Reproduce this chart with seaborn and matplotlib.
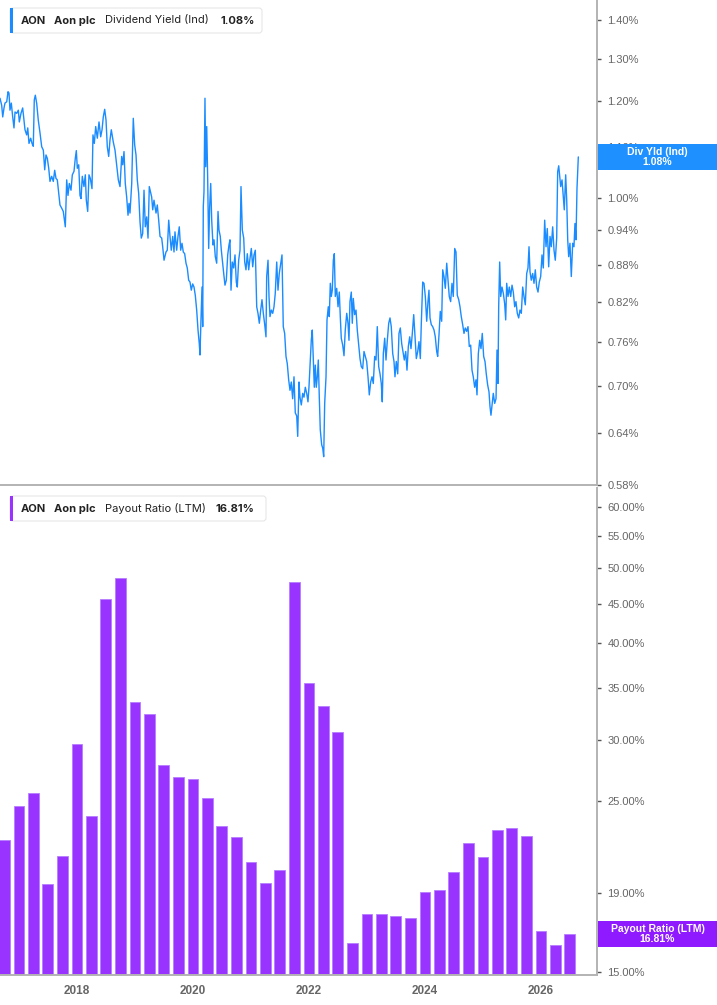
import matplotlib
matplotlib.use("Agg")
import seaborn as sns
import pandas as pd
import numpy as np
import matplotlib.pyplot as plt
import matplotlib.ticker as mtick
from matplotlib.patches import Rectangle, FancyBboxPatch

# dividend yield (ind), % -- time in decimal years
yield_t = [
    2016.672, 2016.701, 2016.719, 2016.741, 2016.758, 2016.788, 2016.810, 2016.827, 2016.844, 2016.867,
    2016.891, 2016.913, 2016.931, 2016.960, 2016.988, 2017.005, 2017.034, 2017.063, 2017.086, 2017.103,
    2017.132, 2017.150, 2017.172, 2017.201, 2017.224, 2017.246, 2017.263, 2017.281, 2017.305, 2017.332,
    2017.362, 2017.391, 2017.419, 2017.443, 2017.465, 2017.488, 2017.512, 2017.534, 2017.563, 2017.591,
    2017.615, 2017.637, 2017.660, 2017.684, 2017.706, 2017.736, 2017.763, 2017.798, 2017.822, 2017.844,
    2017.867, 2017.896, 2017.919, 2017.948, 2017.970, 2017.988, 2018.005, 2018.029, 2018.051, 2018.069,
    2018.091, 2018.120, 2018.143, 2018.160, 2018.184, 2018.206, 2018.229, 2018.258, 2018.275, 2018.298,
    2018.322, 2018.350, 2018.379, 2018.408, 2018.431, 2018.453, 2018.477, 2018.500, 2018.522, 2018.546,
    2018.568, 2018.591, 2018.625, 2018.655, 2018.684, 2018.712, 2018.741, 2018.770, 2018.788, 2018.810,
    2018.832, 2018.856, 2018.879, 2018.896, 2018.913, 2018.943, 2018.970, 2018.994, 2019.017, 2019.039,
    2019.063, 2019.086, 2019.108, 2019.132, 2019.155, 2019.177, 2019.201, 2019.224, 2019.246, 2019.287,
    2019.305, 2019.327, 2019.362, 2019.384, 2019.408, 2019.431, 2019.460, 2019.477, 2019.500, 2019.534,
    2019.556, 2019.581, 2019.603, 2019.625, 2019.650, 2019.672, 2019.689, 2019.718, 2019.741, 2019.763,
    2019.787, 2019.810, 2019.832, 2019.856, 2019.879, 2019.901, 2019.925, 2019.948, 2019.970, 2019.994,
    2020.017, 2020.039, 2020.063, 2020.086, 2020.108, 2020.120, 2020.137, 2020.155, 2020.167, 2020.177,
    2020.189, 2020.206, 2020.219, 2020.236, 2020.253, 2020.270, 2020.287, 2020.305, 2020.322, 2020.344,
    2020.362, 2020.384, 2020.408, 2020.431, 2020.448, 2020.470, 2020.488, 2020.505, 2020.529, 2020.551,
    2020.574, 2020.598, 2020.620, 2020.637, 2020.655, 2020.677, 2020.701, 2020.724, 2020.746, 2020.763,
    2020.787, 2020.810, 2020.827, 2020.850, 2020.874, 2020.891, 2020.913, 2020.936, 2020.960, 2020.982,
    2021.005, 2021.029, 2021.051, 2021.074, 2021.098, 2021.120, 2021.143, 2021.167, 2021.189, 2021.212,
    2021.236, 2021.258, 2021.270, 2021.293, 2021.310, 2021.327, 2021.350, 2021.374, 2021.396, 2021.418,
    2021.443, 2021.465, 2021.487, 2021.512, 2021.534, 2021.556, 2021.580, 2021.603, 2021.625, 2021.649,
    2021.672, 2021.694, 2021.718, 2021.741, 2021.763, 2021.788, 2021.805, 2021.827, 2021.844, 2021.867,
    2021.891, 2021.913, 2021.936, 2021.960, 2021.982, 2021.999, 2022.017, 2022.039, 2022.056, 2022.074,
    2022.091, 2022.108, 2022.125, 2022.143, 2022.160, 2022.177, 2022.194, 2022.218, 2022.236, 2022.253,
    2022.270, 2022.293, 2022.310, 2022.332, 2022.349, 2022.367, 2022.384, 2022.401, 2022.419, 2022.436,
    2022.453, 2022.477, 2022.500, 2022.522, 2022.539, 2022.556, 2022.581, 2022.603, 2022.625, 2022.650,
    2022.672, 2022.689, 2022.706, 2022.729, 2022.746, 2022.763, 2022.787, 2022.810, 2022.832, 2022.856,
    2022.879, 2022.901, 2022.925, 2022.948, 2022.970, 2022.994, 2023.017, 2023.039, 2023.063, 2023.086,
    2023.108, 2023.132, 2023.155, 2023.177, 2023.201, 2023.224, 2023.246, 2023.263, 2023.281, 2023.305,
    2023.327, 2023.350, 2023.374, 2023.396, 2023.418, 2023.443, 2023.465, 2023.482, 2023.505, 2023.529,
    2023.551, 2023.574, 2023.598, 2023.620, 2023.643, 2023.667, 2023.689, 2023.712, 2023.736, 2023.758,
    2023.781, 2023.805, 2023.827, 2023.850, 2023.874, 2023.896, 2023.919, 2023.936, 2023.960, 2023.982,
    2024.005, 2024.029, 2024.051, 2024.068, 2024.086, 2024.108, 2024.132, 2024.155, 2024.177, 2024.201,
    2024.218, 2024.241, 2024.263, 2024.287, 2024.305, 2024.327, 2024.350, 2024.374, 2024.396, 2024.418,
    2024.442, 2024.465, 2024.487, 2024.512, 2024.534, 2024.556, 2024.581, 2024.603, 2024.625, 2024.649,
    2024.672, 2024.694, 2024.718, 2024.741, 2024.763, 2024.787, 2024.810, 2024.832, 2024.856, 2024.879,
    2024.896, 2024.919, 2024.943, 2024.965, 2024.987, 2025.011, 2025.034, 2025.056, 2025.080, 2025.103,
    2025.120, 2025.137, 2025.155, 2025.177, 2025.201, 2025.224, 2025.241, 2025.258, 2025.270, 2025.287,
    2025.305, 2025.327, 2025.350, 2025.373, 2025.391, 2025.408, 2025.431, 2025.453, 2025.477, 2025.500,
    2025.522, 2025.546, 2025.568, 2025.591, 2025.615, 2025.637, 2025.660, 2025.684, 2025.706, 2025.729,
    2025.753, 2025.775, 2025.793, 2025.810, 2025.832, 2025.856, 2025.879, 2025.901, 2025.925, 2025.948,
    2025.970, 2025.994, 2026.017, 2026.039, 2026.063, 2026.086, 2026.108, 2026.132, 2026.155, 2026.177,
    2026.201, 2026.224, 2026.246, 2026.270, 2026.287, 2026.305, 2026.322, 2026.339, 2026.362, 2026.384,
    2026.401, 2026.425, 2026.443, 2026.460, 2026.477, 2026.499, 2026.522, 2026.546, 2026.568, 2026.585,
    2026.603, 2026.620, 2026.643,
]
yield_pct = [
    1.207, 1.191, 1.165, 1.185, 1.196, 1.199, 1.222, 1.219, 1.180, 1.196,
    1.165, 1.141, 1.176, 1.173, 1.180, 1.154, 1.173, 1.185, 1.158, 1.137,
    1.126, 1.141, 1.108, 1.119, 1.108, 1.102, 1.203, 1.214, 1.195, 1.158,
    1.130, 1.101, 1.094, 1.054, 1.084, 1.077, 1.057, 1.031, 1.041, 1.031,
    1.053, 1.037, 1.034, 1.008, 0.986, 0.980, 0.974, 0.946, 1.034, 1.004,
    1.027, 1.014, 1.044, 1.051, 1.077, 1.093, 1.057, 1.064, 1.004, 0.998,
    1.041, 1.021, 1.044, 0.995, 0.974, 1.044, 1.037, 1.017, 1.126, 1.108,
    1.144, 1.119, 1.154, 1.122, 1.137, 1.165, 1.182, 1.158, 1.101, 1.081,
    1.115, 1.137, 1.111, 1.094, 1.064, 1.034, 1.021, 1.081, 1.064, 1.091,
    1.027, 1.001, 0.967, 0.989, 0.971, 1.027, 1.162, 1.105, 1.084, 1.034,
    1.008, 0.955, 0.926, 0.934, 1.014, 0.946, 0.964, 0.926, 1.021, 1.001,
    0.977, 0.995, 0.971, 0.986, 0.958, 0.929, 0.926, 0.911, 0.888, 0.902,
    0.905, 0.958, 0.929, 0.905, 0.929, 0.902, 0.937, 0.905, 0.929, 0.946,
    0.905, 0.917, 0.902, 0.899, 0.883, 0.875, 0.855, 0.852, 0.839, 0.849,
    0.844, 0.831, 0.808, 0.778, 0.758, 0.742, 0.793, 0.844, 0.783, 0.983,
    1.011, 1.207, 1.060, 1.144, 1.034, 0.908, 0.983, 1.027, 0.958, 0.914,
    0.923, 0.894, 0.883, 0.974, 0.940, 0.929, 0.905, 0.888, 0.866, 0.847,
    0.855, 0.897, 0.914, 0.923, 0.839, 0.885, 0.875, 0.897, 0.852, 0.844,
    0.888, 0.905, 1.021, 0.940, 0.926, 0.885, 0.872, 0.899, 0.872, 0.891,
    0.908, 0.877, 0.897, 0.905, 0.813, 0.803, 0.788, 0.808, 0.824, 0.803,
    0.786, 0.768, 0.861, 0.888, 0.829, 0.798, 0.808, 0.803, 0.813, 0.834,
    0.885, 0.839, 0.866, 0.883, 0.897, 0.783, 0.773, 0.740, 0.730, 0.708,
    0.694, 0.705, 0.683, 0.712, 0.665, 0.661, 0.636, 0.705, 0.685, 0.675,
    0.690, 0.685, 0.698, 0.690, 0.679, 0.698, 0.726, 0.763, 0.778, 0.735,
    0.698, 0.728, 0.698, 0.712, 0.735, 0.685, 0.644, 0.626, 0.622, 0.612,
    0.677, 0.712, 0.793, 0.813, 0.798, 0.850, 0.829, 0.839, 0.888, 0.899,
    0.829, 0.842, 0.813, 0.836, 0.798, 0.766, 0.756, 0.741, 0.778, 0.803,
    0.788, 0.763, 0.821, 0.836, 0.788, 0.826, 0.801, 0.808, 0.778, 0.756,
    0.737, 0.726, 0.723, 0.747, 0.740, 0.733, 0.712, 0.688, 0.705, 0.712,
    0.703, 0.740, 0.735, 0.783, 0.726, 0.716, 0.703, 0.679, 0.744, 0.766,
    0.735, 0.763, 0.788, 0.796, 0.783, 0.744, 0.733, 0.712, 0.733, 0.716,
    0.773, 0.781, 0.758, 0.747, 0.735, 0.747, 0.721, 0.754, 0.768, 0.751,
    0.773, 0.801, 0.768, 0.737, 0.747, 0.761, 0.737, 0.788, 0.852, 0.850,
    0.829, 0.791, 0.821, 0.839, 0.796, 0.786, 0.783, 0.778, 0.768, 0.747,
    0.740, 0.771, 0.806, 0.791, 0.872, 0.861, 0.842, 0.883, 0.855, 0.829,
    0.821, 0.850, 0.829, 0.908, 0.902, 0.831, 0.824, 0.813, 0.798, 0.786,
    0.773, 0.781, 0.776, 0.783, 0.754, 0.756, 0.721, 0.712, 0.698, 0.708,
    0.688, 0.744, 0.763, 0.751, 0.773, 0.740, 0.733, 0.716, 0.701, 0.692,
    0.673, 0.662, 0.675, 0.690, 0.677, 0.683, 0.749, 0.703, 0.813, 0.885,
    0.829, 0.844, 0.834, 0.818, 0.793, 0.850, 0.829, 0.844, 0.829, 0.847,
    0.836, 0.813, 0.821, 0.803, 0.796, 0.808, 0.803, 0.844, 0.829, 0.816,
    0.866, 0.875, 0.911, 0.869, 0.855, 0.866, 0.850, 0.872, 0.844, 0.836,
    0.852, 0.861, 0.897, 0.875, 0.958, 0.911, 0.943, 0.877, 0.929, 0.911,
    0.946, 0.905, 0.888, 0.926, 1.050, 1.062, 1.041, 1.021, 1.034, 1.001,
    0.977, 1.044, 0.995, 0.923, 0.894, 0.917, 0.861, 0.917, 0.911, 0.952,
    0.923, 1.017, 1.080,
]

# payout ratio (LTM), % -- quarterly
payout_dates = [
    "2016-09-30", "2016-12-31", "2017-03-31", "2017-06-30", "2017-09-30", "2017-12-31",
    "2018-03-31", "2018-06-30", "2018-09-30", "2018-12-31", "2019-03-31", "2019-06-30",
    "2019-09-30", "2019-12-31", "2020-03-31", "2020-06-30", "2020-09-30", "2020-12-31",
    "2021-03-31", "2021-06-30", "2021-09-30", "2021-12-31", "2022-03-31", "2022-06-30",
    "2022-09-30", "2022-12-31", "2023-03-31", "2023-06-30", "2023-09-30", "2023-12-31",
    "2024-03-31", "2024-06-30", "2024-09-30", "2024-12-31", "2025-03-31", "2025-06-30",
    "2025-09-30", "2025-12-31", "2026-03-31", "2026-06-30",
]
payout_pct = [
    22.23, 24.63, 25.60, 19.50, 21.20, 29.60, 23.88, 45.57, 48.60, 33.58,
    32.34, 27.78, 26.80, 26.67, 25.20, 23.18, 22.45, 20.84, 19.56, 20.33,
    47.94, 35.51, 33.12, 30.65, 16.34, 17.82, 17.82, 17.71, 17.62, 19.02,
    19.15, 20.21, 22.03, 21.12, 22.91, 23.04, 22.50, 16.97, 16.26, 16.81,
]

yield_ticks = [0.58, 0.64, 0.70, 0.76, 0.82, 0.88, 0.94, 1.00, 1.10, 1.20, 1.30, 1.40]
payout_ticks = [15, 19, 25, 30, 35, 40, 45, 50, 55, 60]
year_ticks = [2018, 2020, 2022, 2024, 2026]

BLUE = "#1a8cff"
BLUE_BOX = "#1e90ff"
PURPLE = "#9933ff"
PURPLE_BOX = "#8f1aff"
GRAY = "#b3b3b3"

sns.set_style("white")
plt.rcParams["font.family"] = ["Liberation Sans", "DejaVu Sans"]

W, H = 717, 1005
fig = plt.figure(figsize=(W / 100, H / 100), dpi=100)


def inch(x, y):
    return x / 100, (H - y) / 100


ax1 = fig.add_axes([0, 1 - 485 / H, 597 / W, 485 / H])
ax2 = fig.add_axes([0, 1 - 975 / H, 597 / W, (975 - 488) / H])

d = pd.to_datetime(payout_dates)
payout_t = d.year + (d.dayofyear - 1) / np.where(d.is_leap_year, 366, 365)

sns.lineplot(x=yield_t, y=yield_pct, ax=ax1, color=BLUE, linewidth=1.0,
             estimator=None, sort=False)
sns.barplot(x=np.asarray(payout_t), y=payout_pct, ax=ax2, native_scale=True,
            color=PURPLE, saturation=1, width=0.75, errorbar=None,
            edgecolor="#b77dff", linewidth=0.6)

xlim = (2016.672, 2016.672 + 597 / 58)
pct = mtick.FuncFormatter(lambda v, _: f"{v:.2f}%")
for ax, ticks, lim in [(ax1, yield_ticks, (0.58, 1.454)), (ax2, payout_ticks, (14.87, 63.5))]:
    ax.set_yscale("log")
    ax.set_ylim(*lim)
    ax.set_xlim(*xlim)
    ax.yaxis.set_major_locator(mtick.FixedLocator(ticks))
    ax.yaxis.set_major_formatter(pct)
    ax.yaxis.set_minor_locator(mtick.NullLocator())
    ax.yaxis.tick_right()
    ax.tick_params(axis="y", direction="out", length=3, width=1, color="#555555",
                   pad=4.5, labelsize=8, labelcolor="#666666")
    ax.set(xlabel="", ylabel="")
    for s in ["top", "left"]:
        ax.spines[s].set_visible(False)
    for s in ["right", "bottom"]:
        ax.spines[s].set_color(GRAY)
        ax.spines[s].set_linewidth(1.4)
    ax.grid(False)

ax1.tick_params(axis="x", bottom=False, labelbottom=False)
ax2.set_xticks(year_ticks)
ax2.set_xticklabels([str(y) for y in year_ticks])
ax2.xaxis.set_minor_locator(mtick.NullLocator())
ax2.tick_params(axis="x", direction="out", length=4, width=1, color="#777777",
                pad=3, labelsize=8.5, labelcolor="#666666")
for lab in ax2.get_xticklabels():
    lab.set_fontweight("bold")


def legend_box(y0, y1, x1, accent, parts):
    x0 = 10
    box = FancyBboxPatch(inch(x0, y1), (x1 - x0) / 100, (y1 - y0) / 100,
                         boxstyle="round,pad=0,rounding_size=0.03",
                         transform=fig.dpi_scale_trans, facecolor="white",
                         edgecolor="#e6e6e6", linewidth=0.8, zorder=5)
    fig.add_artist(box)
    bar = Rectangle(inch(x0, y1), 0.03, (y1 - y0) / 100,
                    transform=fig.dpi_scale_trans, facecolor=accent,
                    edgecolor="none", zorder=6)
    fig.add_artist(bar)
    yc = (y0 + y1) / 2
    for x, txt, weight in parts:
        fig.text(*inch(x, yc), txt, transform=fig.dpi_scale_trans, ha="left",
                 va="center", fontsize=8, fontweight=weight, color="#222222",
                 family=["Inter", "DejaVu Sans"], zorder=7)


legend_box(8, 33, 262, BLUE, [(20.5, "AON", "bold"), (54, "Aon plc", "bold"),
                              (105, "Dividend Yield (Ind)", "normal"), (220, "1.08%", "bold")])
legend_box(496, 521, 266, PURPLE, [(20.5, "AON", "bold"), (54, "Aon plc", "bold"),
                                   (105, "Payout Ratio (LTM)", "normal"), (216, "16.81%", "bold")])


def side_box(ax, value, text, color):
    y_in = ax.transData.transform((xlim[0], value))[1] / fig.dpi
    h = 0.26
    rect = Rectangle((5.98, y_in - h / 2), (W - 598) / 100, h,
                     transform=fig.dpi_scale_trans, facecolor=color,
                     edgecolor="none", zorder=8)
    fig.add_artist(rect)
    fig.text(6.575, y_in, text, transform=fig.dpi_scale_trans, ha="center",
             va="center", color="white", fontsize=7.5, fontweight="bold",
             linespacing=1.0, zorder=9)


side_box(ax1, yield_pct[-1], f"Div Yld (Ind)\n{yield_pct[-1]:.2f}%", BLUE_BOX)
side_box(ax2, payout_pct[-1], f"Payout Ratio (LTM)\n{payout_pct[-1]:.2f}%", PURPLE_BOX)

fig.savefig("out.png", dpi=100)
